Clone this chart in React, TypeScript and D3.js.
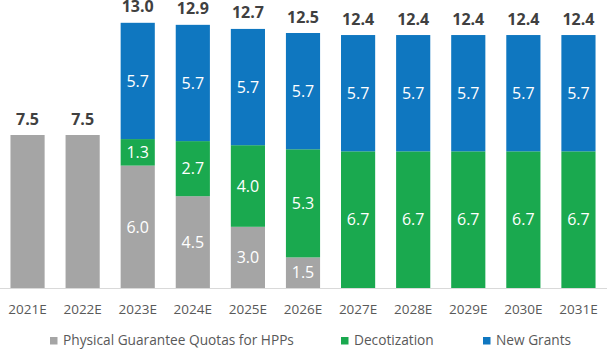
import React from "react";
import * as d3 from "d3";

const categories = ["2021E","2022E","2023E","2024E","2025E","2026E","2027E","2028E","2029E","2030E","2031E"];
const quotas = [7.5, 7.5, 6.0, 4.5, 3.0, 1.5, 0, 0, 0, 0, 0];
const decotization = [0, 0, 1.3, 2.7, 4.0, 5.3, 6.7, 6.7, 6.7, 6.7, 6.7];
const newGrants = [0, 0, 5.7, 5.7, 5.7, 5.7, 5.7, 5.7, 5.7, 5.7, 5.7];
const totals = [7.5, 7.5, 13.0, 12.9, 12.7, 12.5, 12.4, 12.4, 12.4, 12.4, 12.4];
const seriesNames = ["Physical Guarantee Quotas for HPPs", "Decotization", "New Grants"];
const showInner = [false, false, true, true, true, true, true, true, true, true, true];

const W = 608, H = 350;
const colors = ["#a5a5a5", "#1aa94f", "#0f77c0"];
const FONT = "'Open Sans', sans-serif";

export default function App() {
  const x = d3.scaleBand<string>().domain(categories).range([0, 606]).paddingInner(0.38).paddingOuter(0.19);
  const y = d3.scaleLinear().domain([0, 288 / 20.4]).range([288, 0]);
  const rows = categories.map((c, i) => ({ cat: c, q: quotas[i], d: decotization[i], n: newGrants[i] }));
  const stack = d3.stack<any>().keys(["q", "d", "n"])(rows);
  const legendX = [50, 341, 483];
  return (
    <svg width={W} height={H} style={{ position: "absolute", left: 0, top: 0, display: "block", background: "#fff" }} fontFamily={FONT}>
      {stack.map((layer, li) => (
        <g key={li}>
          {layer.map((seg, i) => {
            const v = seg[1] - seg[0];
            if (v <= 0) return null;
            const x0 = x(categories[i])!;
            const yt = y(seg[1]), yb = y(seg[0]);
            return (
              <g key={i}>
                <rect x={x0} y={yt} width={x.bandwidth()} height={yb - yt} fill={colors[li]} />
                {showInner[i] && (
                  <text x={x0 + x.bandwidth() / 2} y={(yt + yb) / 2} dy="0.36em" textAnchor="middle" fill="#fff" fontSize={16}>
                    {d3.format(".1f")(v)}
                  </text>
                )}
              </g>
            );
          })}
        </g>
      ))}
      {totals.map((t, i) => (
        <text key={i} x={x(categories[i])! + x.bandwidth() / 2} y={y(t) - 10.5} textAnchor="middle" fill="#404040" fontSize={16} fontWeight="bold">
          {d3.format(".1f")(t)}
        </text>
      ))}
      <line x1={0} x2={607} y1={288.5} y2={288.5} stroke="#d9d9d9" strokeWidth={1} />
      {categories.map((c) => (
        <text key={c} x={x(c)! + x.bandwidth() / 2} y={314} textAnchor="middle" fill="#595959" fontSize={13.5}>{c}</text>
      ))}
      {seriesNames.map((s, i) => (
        <g key={s}>
          <rect x={legendX[i]} y={337} width={7.5} height={7.5} fill={colors[i]} />
          <text x={legendX[i] + 13} y={344.5} fill="#595959" fontSize={13.7}>{s}</text>
        </g>
      ))}
    </svg>
  );
}
